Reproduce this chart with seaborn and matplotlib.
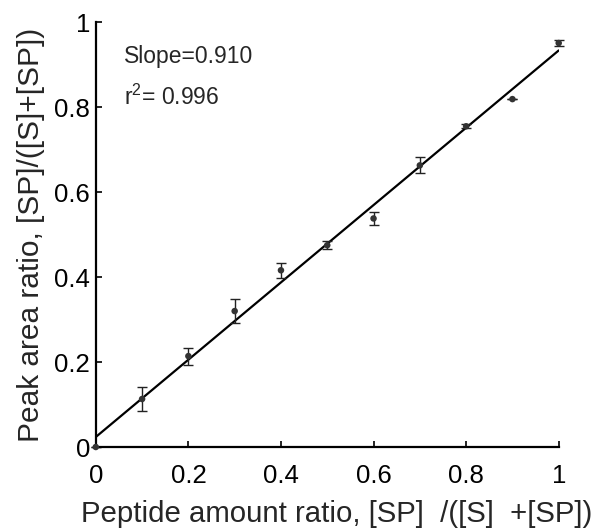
import numpy as np
import pandas as pd
import seaborn as sns
import matplotlib
matplotlib.use("Agg")
import matplotlib.pyplot as plt

x_ratio = [0.0, 0.1, 0.2, 0.3, 0.4, 0.5, 0.6, 0.7, 0.8, 0.9, 1.0]
y_ratio = [0.0, 0.113, 0.214, 0.320, 0.416, 0.475, 0.538, 0.663, 0.755, 0.819, 0.951]
y_err = [0.0, 0.028, 0.020, 0.028, 0.018, 0.010, 0.016, 0.019, 0.005, 0.0, 0.007]
x_ticks = [0, 0.2, 0.4, 0.6, 0.8, 1]
x_ticklabels = ["0", "0.2", "0.4", "0.6", "0.8", "1"]
y_ticks = [0, 0.2, 0.4, 0.6, 0.8, 1]
y_ticklabels = ["0", "0.2", "0.4", "0.6", "0.8", "1"]
slope_text = "Slope=0.910"
r2_text = "r$^2$= 0.996"

sns.set_theme(style="ticks")
plt.rcParams["font.family"] = ["Liberation Sans", "DejaVu Sans"]
plt.rcParams["mathtext.fontset"] = "custom"
plt.rcParams["mathtext.rm"] = "Liberation Sans"

df = pd.DataFrame({"x": x_ratio, "y": y_ratio, "err": y_err})

fig = plt.figure(figsize=(5.95, 5.29), dpi=100)
ax = fig.add_axes([0.161, 0.155, 0.778, 0.803])

sns.regplot(data=df, x="x", y="y", ci=None, ax=ax, scatter=False,
            line_kws={"color": "black", "lw": 1.6})
ax.errorbar(df["x"], df["y"], yerr=df["err"], fmt="none", ecolor="#222222",
            elinewidth=1.0, capsize=3.5, capthick=1.0, clip_on=False)
sns.scatterplot(data=df, x="x", y="y", ax=ax, color="#333333", s=22,
                edgecolor="none", clip_on=False, zorder=5)

ax.set_xlim(0, 1)
ax.set_ylim(0, 1)
ax.set_xticks(x_ticks)
ax.set_xticklabels(x_ticklabels)
ax.set_yticks(y_ticks)
ax.set_yticklabels(y_ticklabels)
ax.tick_params(axis="both", direction="in", length=4, width=1.2, labelsize=18.5, colors="black")
ax.tick_params(axis="x", pad=12)
ax.tick_params(axis="y", pad=4)
sns.despine(ax=ax)
for s in ["left", "bottom"]:
    ax.spines[s].set_linewidth(1.6)
    ax.spines[s].set_color("black")

ax.set_xlabel("Peptide amount ratio, [SP]  /([S]  +[SP])", fontsize=21.2, labelpad=6)
ax.set_ylabel("Peak area ratio, [SP]/([S]+[SP])", fontsize=21.5, labelpad=7)
ax.xaxis.set_label_coords(0.52, -0.125)

ax.text(0.06, 0.92, slope_text, fontsize=16.5, transform=ax.transAxes, va="center")
ax.text(0.06, 0.824, r2_text, fontsize=16.5, transform=ax.transAxes, va="center")

fig.savefig("out.png", dpi=100)
